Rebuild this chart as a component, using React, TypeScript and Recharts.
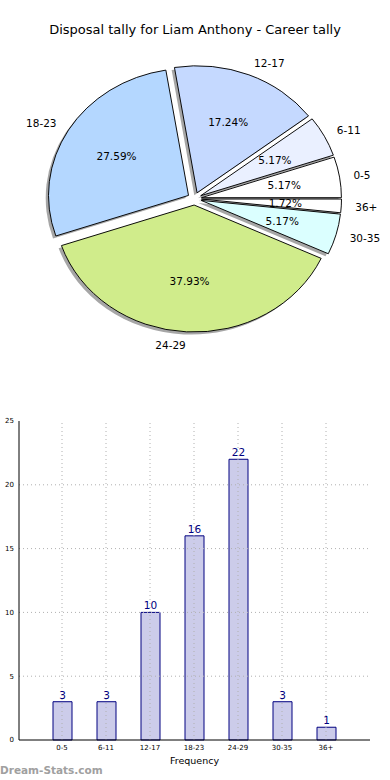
import { PieChart, Pie, Cell, BarChart, Bar, XAxis, YAxis, ReferenceLine, LabelList } from 'recharts';

const categories = ['0-5', '6-11', '12-17', '18-23', '24-29', '30-35', '36+'];
const tally = [3, 3, 10, 16, 22, 3, 1];
const sliceColors = ['#ffffff', '#eaf0ff', '#c5d9ff', '#b4d7ff', '#d0ec8b', '#dbffff', '#ffffff'];
const yTicks = [0, 5, 10, 15, 20, 25];

const FONT = '"DejaVu Sans", sans-serif';
// pie geometry (matplotlib style: ellipse, exploded wedges, drop shadow)
const R = 127;
const SX = 140 / 127;
const CX = 194.5;
const CY = 198.7;
const EXPLODE = 0.05;
const SHADOW = 0.02;
const RAD = Math.PI / 180;
const NO_MARGIN = { top: 0, right: 0, bottom: 0, left: 0 };

const pieData = categories.map((name, i) => ({ name, value: tally[i] }));
const total = tally.reduce((a, b) => a + b, 0);
const midAngles: number[] = [];
{
  let acc = 0;
  tally.forEach((v) => {
    midAngles.push(((acc + v / 2) / total) * 360);
    acc += v;
  });
}

function explodeOffset(i: number) {
  const a = midAngles[i] * RAD;
  return { dx: EXPLODE * R * Math.cos(a), dy: -EXPLODE * R * Math.sin(a) };
}

function renderPieLabel(props: any) {
  const { cx, cy, midAngle, outerRadius, percent, name, index } = props;
  const c = Math.cos(midAngle * RAD);
  const s = Math.sin(midAngle * RAD);
  const lx = cx + (EXPLODE + 1.1) * outerRadius * SX * c;
  const ly = cy - (EXPLODE + 1.1) * outerRadius * s;
  const px = cx + (EXPLODE + 0.6) * outerRadius * SX * c;
  const py = cy - (EXPLODE + 0.6) * outerRadius * s;
  return (
    <g key={'lbl' + index} style={{ fontFamily: FONT, fontSize: 10.5 }}>
      <text x={lx} y={ly} textAnchor={c > 0 ? 'start' : 'end'} dominantBaseline="central" fill="#000">
        {name}
      </text>
      <text x={px} y={py} textAnchor="middle" dominantBaseline="central" fill="#000">
        {(percent * 100).toFixed(2)}%
      </text>
    </g>
  );
}

const gridStyle = { stroke: '#b0b0b0', strokeDasharray: '1 3' };

export default function App() {
  return (
    <div style={{ position: 'fixed', left: 0, top: 0, width: 390, height: 780, overflow: 'hidden', background: '#fff' }}>
      <div style={{ position: 'absolute', left: 0, top: 22, width: 390, textAlign: 'center', fontFamily: FONT, fontSize: 13, color: '#000' }}>
        Disposal tally for Liam Anthony - Career tally
      </div>

      {/* wedges + shadows, stretched horizontally into an ellipse */}
      <div style={{ position: 'absolute', left: 0, top: 0, transform: `scaleX(${SX})`, transformOrigin: `${CX}px 0px` }}>
        <PieChart width={390} height={360} margin={NO_MARGIN}>
          {pieData.map((_, i) => {
            const { dx, dy } = explodeOffset(i);
            return (
              <Pie key={'sh' + i} data={pieData} dataKey="value" nameKey="name"
                cx={CX + dx - SHADOW * R} cy={CY + dy + SHADOW * R} outerRadius={R}
                startAngle={0} endAngle={360} isAnimationActive={false} stroke="none">
                {pieData.map((d, j) => (
                  <Cell key={d.name} fill={j === i ? '#000' : 'none'} fillOpacity={0.35} stroke="none" />
                ))}
              </Pie>
            );
          })}
          {pieData.map((_, i) => {
            const { dx, dy } = explodeOffset(i);
            return (
              <Pie key={'w' + i} data={pieData} dataKey="value" nameKey="name"
                cx={CX + dx} cy={CY + dy} outerRadius={R}
                startAngle={0} endAngle={360} isAnimationActive={false}>
                {pieData.map((d, j) => (
                  <Cell key={d.name} fill={j === i ? sliceColors[j] : 'none'}
                    stroke={j === i ? '#000' : 'none'} strokeWidth={0.9} />
                ))}
              </Pie>
            );
          })}
        </PieChart>
      </div>

      {/* labels, drawn unstretched */}
      <div style={{ position: 'absolute', left: 0, top: 0 }}>
        <PieChart width={390} height={360} margin={NO_MARGIN}>
          <Pie data={pieData} dataKey="value" nameKey="name" cx={CX} cy={CY} outerRadius={R}
            startAngle={0} endAngle={360} isAnimationActive={false}
            labelLine={false} label={renderPieLabel}>
            {pieData.map((d) => (
              <Cell key={d.name} fill="none" stroke="none" />
            ))}
          </Pie>
        </PieChart>
      </div>

      <div style={{ position: 'absolute', left: 0, top: 400 }}>
        <BarChart width={390} height={380} data={pieData} margin={{ top: 21, right: 20, bottom: 0, left: 0 }}>
          <XAxis dataKey="name" interval={0} height={40} padding={{ left: 21, right: 22 }}
            tick={{ fontSize: 7, fill: '#000', fontFamily: FONT }} tickSize={3} tickMargin={2} tickLine={false}
            axisLine={{ stroke: '#000' }}
            label={{ value: 'Frequency', position: 'insideBottom', offset: 16, fontSize: 9.5, fill: '#000', fontFamily: FONT }} />
          <XAxis xAxisId="top" dataKey="name" orientation="top" height={0} tick={false} tickLine={false}
            axisLine={{ stroke: '#000' }} />
          <YAxis domain={[0, 25]} ticks={yTicks} width={19} tickSize={3} tickMargin={2} tickLine={false}
            tick={{ fontSize: 7, fill: '#000', fontFamily: FONT }} axisLine={{ stroke: '#000' }} />
          <YAxis yAxisId="right" orientation="right" width={0} tick={false} tickLine={false}
            axisLine={{ stroke: '#000' }} />
          <Bar dataKey="value" barSize={19} fill="#ccccea" stroke="#000080" strokeWidth={1} isAnimationActive={false}>
            <LabelList dataKey="value" position="top" offset={3} fill="#000080" fontSize={10.5} fontFamily={FONT} />
          </Bar>
          {categories.map((c) => (
            <ReferenceLine key={'gx' + c} x={c} {...gridStyle} />
          ))}
          {yTicks.slice(1, -1).map((t) => (
            <ReferenceLine key={'gy' + t} y={t} {...gridStyle} />
          ))}
        </BarChart>
      </div>

      <div style={{ position: 'absolute', left: -8, top: 580, transform: 'translate(-50%, -50%) rotate(-90deg)', fontFamily: FONT, fontSize: 9.5, whiteSpace: 'nowrap' }}>
        Disposal Tally
      </div>

      <div style={{ position: 'absolute', left: 0, top: 764, fontFamily: FONT, fontSize: 10.5, fontWeight: 'bold', color: '#a0a0a0' }}>
        Dream-Stats.com
      </div>
    </div>
  );
}
